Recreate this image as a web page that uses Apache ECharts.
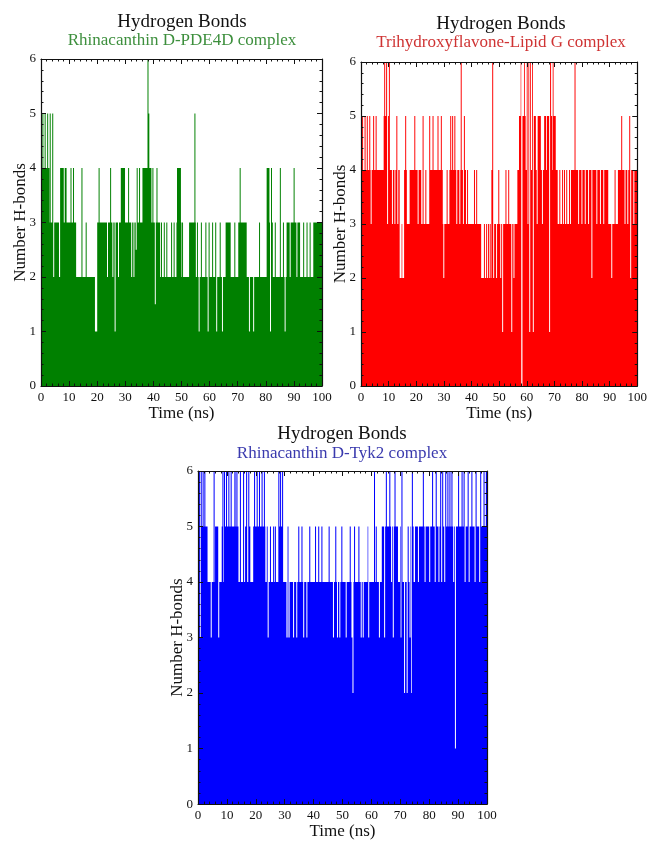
<!DOCTYPE html>
<html><head><meta charset="utf-8">
<script src="https://cdn.jsdelivr.net/npm/echarts@6/dist/echarts.min.js"></script>
<style>html,body{margin:0;padding:0;background:#fff}#c{width:650px;height:841px}</style>
</head><body><div id="c"></div>
<script>
const xRange = [0, 100];
const yRange = [0, 6];
const xTickStep = 10;
const yTickStep = 1;
const titleText = 'Hydrogen Bonds';
const xName = 'Time (ns)';
const yName = 'Number H-bonds';
const subtitles = ['Rhinacanthin D-PDE4D complex', 'Trihydroxyflavone-Lipid G complex', 'Rhinacanthin D-Tyk2 complex'];

// [time (ns), number of H-bonds] at each point where the count changes (held until the next point)
const greenHB = [
 [0,4],[0.5,5],[0.85,4],[1.3,5],[1.65,4],[2.2,5],[2.55,4],[3.0,3],[3.1,5],[3.45,3],[4.0,5],[4.35,2],[4.7,3],[6.4,2],[6.8,4],[8.1,3],[8.45,4],[9.1,3],
 [10.5,4],[10.85,3],[11.4,4],[11.75,3],[12.5,2],[14.4,4],[14.75,2],[15.9,3],[16.25,2],[19.2,1],[20.0,3],[20.5,4],[20.85,3],[23.5,2],[23.85,3],
 [24.6,4],[24.95,3],[25.4,2],[25.75,3],[26.2,1],[26.55,3],[27.4,2],[27.75,3],[28.4,4],[29.9,3],[31.0,4],[31.35,3],[32.1,2],[32.45,3],[32.9,2],[33.25,3],
 [33.7,2.5],[34.05,4],[34.4,3],[34.9,4],[35.25,3],[36.1,4],[37.9,6],[38.25,5],[38.55,4],[39.3,3],[39.65,4],[40.0,3],[40.5,1.5],[40.85,3],[41.1,4],[41.45,3],
 [42.4,2],[42.7,3],[43.05,2],[43.7,3],[44.05,2],[44.6,3],[44.95,2],[46.3,3],[46.65,2],[47.2,3],[47.55,2],[48.2,3],[48.4,4],[49.8,3],[50.0,2],[50.2,3],[50.55,2],
 [52.7,3],[54.6,5],[54.95,3],[55.1,2],[55.5,3],[55.85,2],[56.1,1],[56.45,2],[56.9,3],[57.25,2],[58.5,3],[58.85,2],[59.3,1],[59.65,3],[60.0,2],
 [60.9,3],[61.25,2],[62.0,3],[62.35,1],[62.7,2],[63.6,3],[63.95,2],[64.4,1],[64.75,2],[65.7,3],[67.5,2],[68.8,3],[69.15,2],[70.2,3],[70.7,4],[71.05,3],
 [73.2,2],[74.0,1],[74.35,2],[75.5,1],[75.85,2],[77.6,3],[77.95,2],[80.3,4],[81.3,3],[81.5,1],[81.85,4],[82.2,3],[82.5,2],[83.2,3],[83.55,2],
 [85.0,4],[85.35,2],[86.1,3],[86.45,2],[86.7,1],[87.05,2],[87.4,3],[88.5,2],[88.85,3],[89.9,4],[90.25,3],[90.9,2],[91.25,3],[92.2,2],[93.3,3],[93.65,2],
 [94.5,3],[94.85,2],[95.6,3],[95.95,2],[96.9,3],[100,3]
];
const redHB = [
 [0,4],[0.4,5],[0.75,4],[1.3,5],[1.65,4],[2.1,5],[2.45,4],[3.0,5],[3.35,4],[3.5,3],[3.85,4],[4.4,5],[4.75,4],[5.3,5],[5.65,4],
 [8.2,5],[8.4,6],[8.75,5],[9.1,6],[9.45,3],[9.8,5],[10.1,6],[10.45,4],[11.2,3],[11.55,4],[12.1,3],[12.45,4],[12.8,5],[13.15,3],[13.5,4],
 [14.0,2],[14.7,3],[14.95,2],[15.6,4],[16.0,5],[16.35,4],[16.6,3],[17.6,4],[19.3,5],[19.65,4],[20.5,3],[20.85,4],[21.8,3],
 [22.3,5],[22.65,3],[23.3,4],[23.65,3],[24.7,5],[25.05,4],[25.9,5],[26.25,4],[27.7,5],[28.05,4],[28.9,5],[29.25,4],[29.6,3],[29.8,2],[30.15,3],[31.0,4],[31.35,3],
 [32.0,4],[32.3,5],[32.65,4],[33.0,5],[33.35,4],[33.8,5],[34.15,4],[34.5,3],[34.85,4],[35.6,3],[35.95,4],[36.1,6],[36.45,4],[36.9,3],[37.25,5],[37.6,4],
 [38.0,3],[38.4,4],[38.75,3],[40.9,4],[41.25,3],[41.7,4],[42.05,3],
 [43.5,2],[44.5,3],[44.85,2],[45.3,3],[45.65,2],[46.0,3],[46.35,2],[46.6,3],[46.95,2],[47.2,4],[47.5,6],[47.85,2],
 [48.2,3],[48.9,2],[49.25,3],[49.7,4],[50.05,3],[50.4,2],[50.75,3],[51.1,1],[51.45,3],[52.3,4],[52.65,3],[53.3,4],[53.65,3],[54.4,1],[54.75,3],[55.2,2],[55.55,3],
 [56.6,4],[57.2,5],[57.8,6],[58.0,0],[58.45,5],[59.0,6],[59.3,5],[59.6,4],[60.0,6],[60.3,3],[60.6,6],[60.9,1],[61.25,6],[61.55,4],[61.9,6],[62.2,1],[62.55,5],
 [63.3,4],[63.6,3],[63.95,5],[65.1,4],[65.5,3],[65.85,4],[66.3,5],[67.0,4],[67.3,5],[68.1,1],[68.45,6],[68.8,5],[69.2,4],[69.4,6],[69.7,5],[70.5,4],
 [71.2,3],[71.8,4],[72.15,3],[72.8,4],[73.15,3],[73.5,4],[73.85,3],[74.3,4],[74.65,3],[75.3,4],[75.65,3],[76.0,4],[77.3,6],[77.65,4],
 [78.6,3],[78.95,4],[79.8,3],[80.15,4],[81.0,3],[81.35,4],[82.2,3],[82.55,4],[83.4,2],[83.75,4],[85.2,3],[85.55,4],[86.5,3],[86.85,4],[87.7,3],[88.05,4],
 [89.5,3],[90.6,2],[90.95,3],[91.8,4],[92.15,3],[93.0,4],[94.2,5],[94.55,4],[95.4,3],[95.75,4],[96.4,3],[96.75,4],[97.1,5],[97.45,2],[97.8,4],[98.6,3],[98.95,4],[100,4]
];
const blueHB = [
 [0,5],[0.3,6],[0.65,3],[0.95,6],[1.3,5],[1.6,6],[1.95,5],[2.2,6],[2.55,5],[3.3,4],[4.4,3],[4.75,4],[5.4,6],[5.75,4],[5.9,5],[7.0,3],[7.35,4],
 [8.2,5],[8.45,6],[8.8,4],[9.0,6],[9.35,5],[9.7,6],[10.05,5],[10.5,6],[10.85,5],[11.3,6],[11.65,5],[12.6,6],[13.0,5],[13.3,6],[13.65,5],[14.0,4],
 [14.5,6],[14.85,4],[15.6,6],[15.95,4],[16.3,5],[16.65,6],[17.0,4],[17.4,6],[17.75,5],[18.1,4],[19.1,5],[19.4,6],[19.75,5],[20.3,6],[20.65,5],
 [21.1,6],[21.45,5],[22.0,6],[22.35,5],[22.8,6],[23.15,5],[23.3,4],[23.8,5],[24.1,3],[24.45,4],[24.9,5],[25.25,4],[26.0,5],[26.35,4],[26.6,5],[26.95,4],
 [27.8,6],[28.15,5],[28.4,6],[28.75,5],[29.1,6],[29.45,4],[30.6,3],[31.0,5],[31.3,3],[31.7,4],[32.9,3],[33.25,4],[34.0,3],[34.35,4],[34.7,5],[35.05,4],
 [35.8,5],[36.15,4],[36.4,3],[36.75,4],[37.5,3],[37.85,4],[38.5,5],[38.85,4],[40.5,5],[40.85,4],[41.6,5],[41.95,4],[42.7,5],[43.05,4],[45.2,5],[45.55,4],
 [46.7,3],[47.05,4],[47.5,5],[47.85,4],[48.1,3],[48.45,4],[48.9,3],[49.25,4],[49.6,5],[49.95,4],[51.1,3],[51.45,4],[52.5,5],[52.85,4],[53.1,3],[53.45,2],[53.8,4],
 [54.0,5],[54.35,4],[55.5,5],[55.85,4],[56.3,3],[56.65,4],[57.0,3],[57.35,4],[58.7,5],[58.9,3],[59.25,4],[60.9,6],[61.25,4],[61.5,5],[61.85,4],
 [62.6,3],[62.95,4],[63.6,5],[64.4,3],[64.75,5],[65.0,6],[65.35,5],[66.2,6],[66.55,5],[66.8,4],[67.15,5],[67.4,3],[67.75,5],[68.0,6],[68.35,5],[69.2,4],
 [69.9,5],[70.1,3],[70.4,6],[70.75,4],[71.3,2],[71.65,4],[72.2,2],[72.55,5],[72.9,4],[73.2,3],[73.55,5],[73.75,2],[74.0,6],[74.35,5],[74.6,4],[75.1,5],
 [76.1,4],[76.45,5],[77.8,6],[78.15,5],[78.4,4],[78.75,5],[80.0,4],[80.35,5],[81.0,6],[81.35,5],[81.9,4],[82.25,6],[82.6,5],[83.2,4],[83.55,5],
 [83.8,6],[84.15,4],[84.5,6],[84.85,5],[85.2,4],[85.55,6],[85.9,5],[86.3,6],[86.65,5],[87.0,6],[87.35,5],[87.7,6],[88.05,5],[88.3,4],[88.65,5],
 [88.9,1],[89.25,5],[90.0,6],[90.35,5],[91.2,6],[91.55,5],[91.9,6],[92.25,4],[92.6,5],[93.3,6],[93.65,4],[94.0,5],[94.6,6],[94.95,5],[95.7,4],
 [96.05,6],[96.4,5],[97.3,4],[97.65,6],[98.0,5],[98.8,6],[99.15,5],[99.6,6],[100,5]
];

const panels = [
  {data: greenHB, color: '#008000', sub: subtitles[0], subColor: '#3d8f3d', grid: {left: 41, top: 59, width: 281, height: 327}, tx: 182, ty: 22, sy: 41},
  {data: redHB, color: '#ff0000', sub: subtitles[1], subColor: '#cf3333', grid: {left: 361, top: 62, width: 278, height: 324}, tx: 501, ty: 24, sy: 43},
  {data: blueHB, color: '#0000ff', sub: subtitles[2], subColor: '#3a3aae', grid: {left: 198, top: 471, width: 289, height: 337}, tx: 342, ty: 434, sy: 454}
];

const FONT = 'Liberation Serif, Times New Roman, serif';
const grids = [], xAxes = [], yAxes = [], series = [], graphics = [];

function tickStyle() {
  return {
    axisLine: {show: true, onZero: false, lineStyle: {color: '#111', width: 1.2}},
    axisTick: {show: true, inside: true, length: 5, lineStyle: {color: '#111', width: 1}},
    minorTick: {show: true, splitNumber: 5, length: 2.5, lineStyle: {color: '#111', width: 1}},
    splitLine: {show: false}
  };
}

// filled step trace: every count is held until the next change point; positions come from the axes (api.coord)
function makeRenderer(points, color) {
  return function (params, api) {
    if (params.dataIndex !== 0) return null;
    const poly = [api.coord([points[0][0], 0]), api.coord(points[0])];
    for (let k = 1; k < points.length; k++) {
      poly.push(api.coord([points[k][0], points[k - 1][1]]));
      poly.push(api.coord(points[k]));
    }
    poly.push(api.coord([points[points.length - 1][0], 0]));
    return {type: 'polygon', shape: {points: poly}, style: {fill: color}, silent: true};
  };
}

panels.forEach((p, i) => {
  grids.push(Object.assign({containLabel: false}, p.grid));
  const xBase = Object.assign({gridIndex: i, type: 'value', min: xRange[0], max: xRange[1], interval: xTickStep, z: 10}, tickStyle());
  xAxes.push(Object.assign({}, xBase, {
    position: 'bottom',
    axisLabel: {color: '#111', fontFamily: FONT, fontSize: 13, margin: 5},
    name: xName, nameLocation: 'middle', nameGap: 17,
    nameTextStyle: {color: '#111', fontFamily: FONT, fontSize: 17}
  }));
  xAxes.push(Object.assign({}, xBase, {position: 'top', axisLabel: {show: false}}));
  const yBase = Object.assign({gridIndex: i, type: 'value', min: yRange[0], max: yRange[1], interval: yTickStep, z: 10}, tickStyle());
  yAxes.push(Object.assign({}, yBase, {
    position: 'left',
    axisLabel: {color: '#111', fontFamily: FONT, fontSize: 13, margin: 5},
    name: yName, nameLocation: 'middle', nameGap: 12, nameRotate: 90, nameMoveOverlap: false,
    nameTextStyle: {color: '#111', fontFamily: FONT, fontSize: 17}
  }));
  yAxes.push(Object.assign({}, yBase, {position: 'right', axisLabel: {show: false}}));
  series.push({
    type: 'custom', coordinateSystem: 'cartesian2d', xAxisIndex: 2 * i, yAxisIndex: 2 * i,
    data: p.data,
    renderItem: makeRenderer(p.data, p.color),
    silent: true, clip: true, z: 2
  });
  graphics.push({type: 'text', x: p.tx, y: p.ty, style: {text: titleText, fill: '#111', font: '19px ' + FONT, textAlign: 'center', textVerticalAlign: 'middle'}});
  graphics.push({type: 'text', x: p.tx, y: p.sy, style: {text: p.sub, fill: p.subColor, font: '17px ' + FONT, textAlign: 'center', textVerticalAlign: 'middle'}});
});

const chart = echarts.init(document.getElementById('c'), null, {renderer: 'canvas'});
chart.setOption({
  animation: false,
  backgroundColor: '#fff',
  grid: grids, xAxis: xAxes, yAxis: yAxes, series: series, graphic: graphics
});
</script></body></html>
